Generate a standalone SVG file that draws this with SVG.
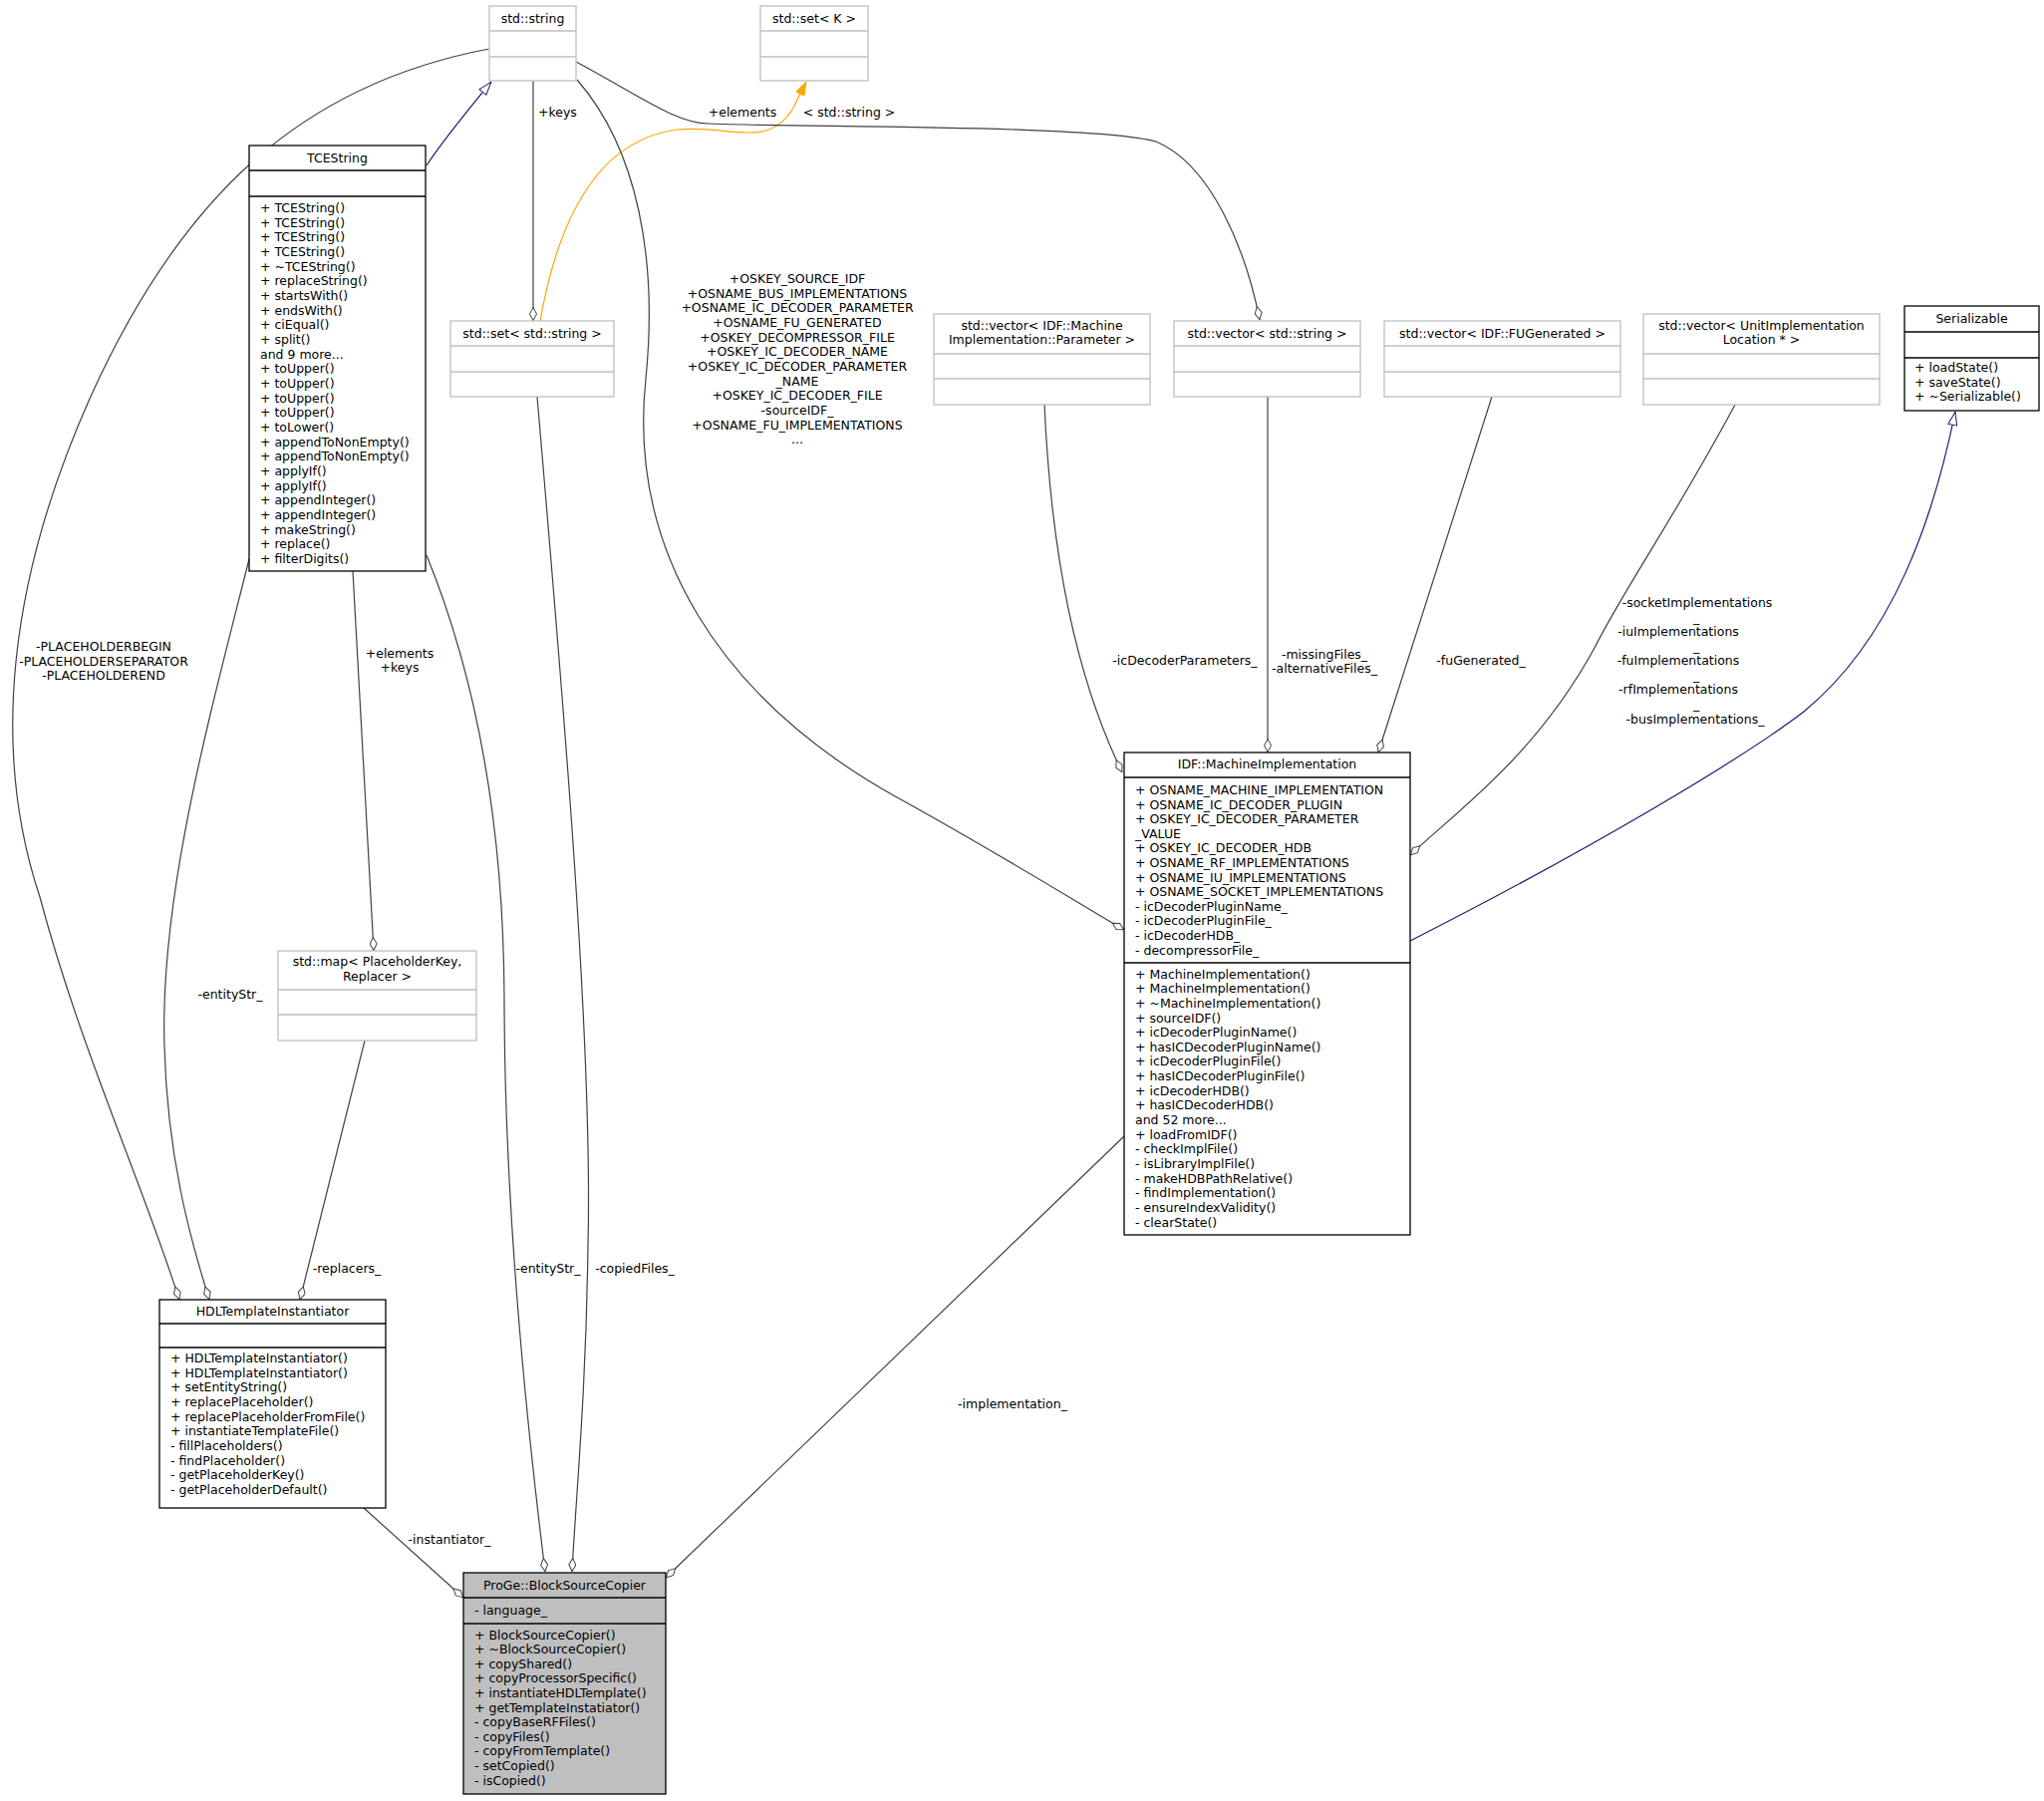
<svg xmlns="http://www.w3.org/2000/svg" width="2051" height="1807" viewBox="0 0 2051 1807">
<style>
text{font-family:"DejaVu Sans","Liberation Sans",sans-serif;font-size:12.5px;fill:#000}
.c{text-anchor:middle}
.n{fill:#fff;stroke:#000;stroke-width:1.3}
.g{fill:#fff;stroke:#bfbfbf;stroke-width:1.3}
.ln{stroke:#000;stroke-width:1.3}
.lg{stroke:#bfbfbf;stroke-width:1.3}
.e{fill:none;stroke:#404040;stroke-width:1.2}
.inh{fill:none;stroke:#191970;stroke-width:1.2}
.tpl{fill:none;stroke:#ffa500;stroke-width:1.2}
</style>
<defs>
<marker id="dia" viewBox="0 0 14 8" refX="14" refY="4" markerWidth="14" markerHeight="8" markerUnits="userSpaceOnUse" orient="auto"><path d="M0.5,4 L7,0.5 L13.5,4 L7,7.5 Z" fill="#fff" stroke="#404040" stroke-width="1"/></marker>
<marker id="tri" viewBox="0 0 14 10" refX="14" refY="5" markerWidth="14" markerHeight="10" markerUnits="userSpaceOnUse" orient="auto"><path d="M0.5,0.5 L13.5,5 L0.5,9.5 Z" fill="#fff" stroke="#191970" stroke-width="1"/></marker>
<marker id="arr" viewBox="0 0 14 10" refX="14" refY="5" markerWidth="14" markerHeight="10" markerUnits="userSpaceOnUse" orient="auto"><path d="M0.5,0.5 L13.5,5 L0.5,9.5 Z" fill="#ffa500" stroke="#ffa500" stroke-width="1"/></marker>
</defs>
<rect width="2051" height="1807" fill="#fff"/>
<g id="edges">
<path class="inh" d="M428,166 C445,140 470,110 493,82" marker-end="url(#tri)"/>
<path class="e" d="M535,81 L535,322" marker-end="url(#dia)"/>
<path class="tpl" d="M542,322 C560,220 600,140 680,130 C730,125 770,150 795,110 L809,82" marker-end="url(#arr)"/>
<path class="e" d="M578,62 C640,95 680,125 712,124 C800,128 1100,125 1160,142 C1215,165 1250,250 1264,321" marker-end="url(#dia)"/>
<path class="e" d="M579,80 C640,150 660,260 648,380 C630,550 720,700 900,800 C1000,855 1080,905 1128,933" marker-end="url(#dia)"/>
<path class="e" d="M491,49 C300,85 180,200 90,400 C10,580 -10,750 40,900 C80,1050 140,1180 180,1304" marker-end="url(#dia)"/>
<path class="e" d="M250,561 C210,720 160,900 165,1050 C168,1160 190,1240 210,1304" marker-end="url(#dia)"/>
<path class="e" d="M354,573 L375,954" marker-end="url(#dia)"/>
<path class="e" d="M366,1044 L301,1304" marker-end="url(#dia)"/>
<path class="e" d="M428,557 C470,660 505,800 506,1000 C506,1200 525,1400 547,1577" marker-end="url(#dia)"/>
<path class="e" d="M539,398 C565,700 595,1050 590,1250 C588,1400 578,1500 574,1577" marker-end="url(#dia)"/>
<path class="e" d="M365,1513 L465,1603" marker-end="url(#dia)"/>
<path class="e" d="M1128,1140 L668,1583" marker-end="url(#dia)"/>
<path class="e" d="M1048,406 C1055,560 1080,680 1126,775" marker-end="url(#dia)"/>
<path class="e" d="M1272,398 L1272,755" marker-end="url(#dia)"/>
<path class="e" d="M1497,398 L1383,755" marker-end="url(#dia)"/>
<path class="e" d="M1741,406 C1680,520 1630,590 1600,650 C1540,760 1460,815 1415,858" marker-end="url(#dia)"/>
<path class="inh" d="M1415,944 C1600,850 1750,760 1810,714 C1900,640 1940,520 1962,413" marker-end="url(#tri)"/>
<g id="edge-labels">
<text x="540" y="117">+keys</text>
<text x="745" y="117" class="c">+elements</text>
<text x="852" y="117" class="c">&lt; std::string &gt;</text>
<text class="c" x="800" y="284">+OSKEY_SOURCE_IDF</text>
<text class="c" x="800" y="298.7">+OSNAME_BUS_IMPLEMENTATIONS</text>
<text class="c" x="800" y="313.4">+OSNAME_IC_DECODER_PARAMETER</text>
<text class="c" x="800" y="328">+OSNAME_FU_GENERATED</text>
<text class="c" x="800" y="342.7">+OSKEY_DECOMPRESSOR_FILE</text>
<text class="c" x="800" y="357.4">+OSKEY_IC_DECODER_NAME</text>
<text class="c" x="800" y="372">+OSKEY_IC_DECODER_PARAMETER</text>
<text class="c" x="800" y="386.7">_NAME</text>
<text class="c" x="800" y="401.4">+OSKEY_IC_DECODER_FILE</text>
<text class="c" x="800" y="416">-sourceIDF_</text>
<text class="c" x="800" y="430.7">+OSNAME_FU_IMPLEMENTATIONS</text>
<text class="c" x="800" y="445.4">...</text>
<text class="c" x="104" y="653">-PLACEHOLDERBEGIN</text>
<text class="c" x="104" y="668">-PLACEHOLDERSEPARATOR</text>
<text class="c" x="104" y="682">-PLACEHOLDEREND</text>
<text class="c" x="401" y="660">+elements</text>
<text class="c" x="401" y="674">+keys</text>
<text class="c" x="231" y="1002">-entityStr_</text>
<text class="c" x="348" y="1277">-replacers_</text>
<text class="c" x="550" y="1277">-entityStr_</text>
<text class="c" x="637" y="1277">-copiedFiles_</text>
<text class="c" x="451" y="1549">-instantiator_</text>
<text class="c" x="1016" y="1413">-implementation_</text>
<text class="c" x="1189" y="667">-icDecoderParameters_</text>
<text class="c" x="1329" y="661">-missingFiles_</text>
<text class="c" x="1329" y="675">-alternativeFiles_</text>
<text class="c" x="1486" y="667">-fuGenerated_</text>
<text class="c" x="1703" y="609">-socketImplementations</text>
<text class="c" x="1702" y="624">_</text>
<text class="c" x="1684" y="638">-iuImplementations</text>
<text class="c" x="1702" y="653">_</text>
<text class="c" x="1684" y="667">-fuImplementations</text>
<text class="c" x="1702" y="682">_</text>
<text class="c" x="1684" y="696">-rfImplementations</text>
<text class="c" x="1702" y="711">_</text>
<text class="c" x="1701" y="726">-busImplementations_</text>
</g>
</g>
<g id="std-string">
<rect class="g" x="491" y="6" width="87" height="75"/>
<line class="lg" x1="491" y1="31" x2="578" y2="31"/><line class="lg" x1="491" y1="57" x2="578" y2="57"/>
<text class="c" x="534.5" y="23">std::string</text>
</g>
<g id="std-set-K">
<rect class="g" x="763" y="6" width="108" height="75"/>
<line class="lg" x1="763" y1="31" x2="871" y2="31"/><line class="lg" x1="763" y1="57" x2="871" y2="57"/>
<text class="c" x="817" y="23">std::set&lt; K &gt;</text>
</g>
<g id="TCEString">
<rect class="n" x="250" y="146" width="177" height="427"/>
<line class="ln" x1="250" y1="171" x2="427" y2="171"/><line class="ln" x1="250" y1="197" x2="427" y2="197"/>
<text class="c" x="338.5" y="163">TCEString</text>
<text x="261" y="213">+ TCEString()</text>
<text x="261" y="227.7">+ TCEString()</text>
<text x="261" y="242.3">+ TCEString()</text>
<text x="261" y="257">+ TCEString()</text>
<text x="261" y="271.6">+ ~TCEString()</text>
<text x="261" y="286.3">+ replaceString()</text>
<text x="261" y="301">+ startsWith()</text>
<text x="261" y="315.6">+ endsWith()</text>
<text x="261" y="330.3">+ ciEqual()</text>
<text x="261" y="345">+ split()</text>
<text x="261" y="359.6">and 9 more...</text>
<text x="261" y="374.3">+ toUpper()</text>
<text x="261" y="389">+ toUpper()</text>
<text x="261" y="403.6">+ toUpper()</text>
<text x="261" y="418.3">+ toUpper()</text>
<text x="261" y="433">+ toLower()</text>
<text x="261" y="447.6">+ appendToNonEmpty()</text>
<text x="261" y="462.3">+ appendToNonEmpty()</text>
<text x="261" y="477">+ applyIf()</text>
<text x="261" y="491.6">+ applyIf()</text>
<text x="261" y="506.3">+ appendInteger()</text>
<text x="261" y="521">+ appendInteger()</text>
<text x="261" y="535.6">+ makeString()</text>
<text x="261" y="550.3">+ replace()</text>
<text x="261" y="565">+ filterDigits()</text>
</g>
<g id="std-set-string">
<rect class="g" x="452" y="322" width="164" height="76"/>
<line class="lg" x1="452" y1="347" x2="616" y2="347"/><line class="lg" x1="452" y1="373" x2="616" y2="373"/>
<text class="c" x="534" y="339">std::set&lt; std::string &gt;</text>
</g>
<g id="vector-param">
<rect class="g" x="937" y="315" width="217" height="91"/>
<line class="lg" x1="937" y1="355" x2="1154" y2="355"/><line class="lg" x1="937" y1="380" x2="1154" y2="380"/>
<text class="c" x="1045.5" y="331">std::vector&lt; IDF::Machine</text>
<text class="c" x="1045.5" y="345">Implementation::Parameter &gt;</text>
</g>
<g id="vector-string">
<rect class="g" x="1178" y="322" width="187" height="76"/>
<line class="lg" x1="1178" y1="347" x2="1365" y2="347"/><line class="lg" x1="1178" y1="373" x2="1365" y2="373"/>
<text class="c" x="1271.5" y="339">std::vector&lt; std::string &gt;</text>
</g>
<g id="vector-fugen">
<rect class="g" x="1389" y="322" width="237" height="76"/>
<line class="lg" x1="1389" y1="347" x2="1626" y2="347"/><line class="lg" x1="1389" y1="373" x2="1626" y2="373"/>
<text class="c" x="1507.5" y="339">std::vector&lt; IDF::FUGenerated &gt;</text>
</g>
<g id="vector-unitimpl">
<rect class="g" x="1649" y="315" width="237" height="91"/>
<line class="lg" x1="1649" y1="355" x2="1886" y2="355"/><line class="lg" x1="1649" y1="380" x2="1886" y2="380"/>
<text class="c" x="1767.5" y="331">std::vector&lt; UnitImplementation</text>
<text class="c" x="1767.5" y="345">Location * &gt;</text>
</g>
<g id="Serializable">
<rect class="n" x="1911" y="307" width="135" height="105"/>
<line class="ln" x1="1911" y1="333" x2="2046" y2="333"/><line class="ln" x1="1911" y1="359" x2="2046" y2="359"/>
<text class="c" x="1978.5" y="324">Serializable</text>
<text x="1921" y="373">+ loadState()</text>
<text x="1921" y="388">+ saveState()</text>
<text x="1921" y="402">+ ~Serializable()</text>
</g>
<g id="MachineImplementation">
<rect class="n" x="1128" y="755" width="287" height="484"/>
<line class="ln" x1="1128" y1="780" x2="1415" y2="780"/><line class="ln" x1="1128" y1="966" x2="1415" y2="966"/>
<text class="c" x="1271.5" y="771">IDF::MachineImplementation</text>
<text x="1139" y="797">+ OSNAME_MACHINE_IMPLEMENTATION</text>
<text x="1139" y="811.6">+ OSNAME_IC_DECODER_PLUGIN</text>
<text x="1139" y="826.2">+ OSKEY_IC_DECODER_PARAMETER</text>
<text x="1139" y="840.8">_VALUE</text>
<text x="1139" y="855.4">+ OSKEY_IC_DECODER_HDB</text>
<text x="1139" y="870">+ OSNAME_RF_IMPLEMENTATIONS</text>
<text x="1139" y="884.6">+ OSNAME_IU_IMPLEMENTATIONS</text>
<text x="1139" y="899.2">+ OSNAME_SOCKET_IMPLEMENTATIONS</text>
<text x="1139" y="913.8">- icDecoderPluginName_</text>
<text x="1139" y="928.4">- icDecoderPluginFile_</text>
<text x="1139" y="943">- icDecoderHDB_</text>
<text x="1139" y="957.6">- decompressorFile_</text>
<text x="1139" y="981.5">+ MachineImplementation()</text>
<text x="1139" y="996.2">+ MachineImplementation()</text>
<text x="1139" y="1010.8">+ ~MachineImplementation()</text>
<text x="1139" y="1025.5">+ sourceIDF()</text>
<text x="1139" y="1040.1">+ icDecoderPluginName()</text>
<text x="1139" y="1054.8">+ hasICDecoderPluginName()</text>
<text x="1139" y="1069.4">+ icDecoderPluginFile()</text>
<text x="1139" y="1084">+ hasICDecoderPluginFile()</text>
<text x="1139" y="1098.7">+ icDecoderHDB()</text>
<text x="1139" y="1113.3">+ hasICDecoderHDB()</text>
<text x="1139" y="1128">and 52 more...</text>
<text x="1139" y="1142.6">+ loadFromIDF()</text>
<text x="1139" y="1157.3">- checkImplFile()</text>
<text x="1139" y="1171.9">- isLibraryImplFile()</text>
<text x="1139" y="1186.6">- makeHDBPathRelative()</text>
<text x="1139" y="1201.2">- findImplementation()</text>
<text x="1139" y="1215.8">- ensureIndexValidity()</text>
<text x="1139" y="1230.5">- clearState()</text>
</g>
<g id="std-map">
<rect class="g" x="279" y="954" width="199" height="90"/>
<line class="lg" x1="279" y1="993" x2="478" y2="993"/><line class="lg" x1="279" y1="1018" x2="478" y2="1018"/>
<text class="c" x="378.5" y="969">std::map&lt; PlaceholderKey,</text>
<text class="c" x="378.5" y="984">Replacer &gt;</text>
</g>
<g id="HDLTemplateInstantiator">
<rect class="n" x="160" y="1304" width="227" height="209"/>
<line class="ln" x1="160" y1="1328" x2="387" y2="1328"/><line class="ln" x1="160" y1="1352" x2="387" y2="1352"/>
<text class="c" x="273.5" y="1320">HDLTemplateInstantiator</text>
<text x="171" y="1367">+ HDLTemplateInstantiator()</text>
<text x="171" y="1381.7">+ HDLTemplateInstantiator()</text>
<text x="171" y="1396.3">+ setEntityString()</text>
<text x="171" y="1411">+ replacePlaceholder()</text>
<text x="171" y="1425.6">+ replacePlaceholderFromFile()</text>
<text x="171" y="1440.3">+ instantiateTemplateFile()</text>
<text x="171" y="1455">- fillPlaceholders()</text>
<text x="171" y="1469.6">- findPlaceholder()</text>
<text x="171" y="1484.3">- getPlaceholderKey()</text>
<text x="171" y="1499">- getPlaceholderDefault()</text>
</g>
<g id="BlockSourceCopier">
<rect x="465" y="1578" width="203" height="222" fill="#bfbfbf" stroke="#000" stroke-width="1.3"/>
<line class="ln" x1="465" y1="1603" x2="668" y2="1603"/><line class="ln" x1="465" y1="1629" x2="668" y2="1629"/>
<text class="c" x="566.5" y="1595">ProGe::BlockSourceCopier</text>
<text x="476" y="1620">- language_</text>
<text x="476" y="1644.5">+ BlockSourceCopier()</text>
<text x="476" y="1659.1">+ ~BlockSourceCopier()</text>
<text x="476" y="1673.7">+ copyShared()</text>
<text x="476" y="1688.3">+ copyProcessorSpecific()</text>
<text x="476" y="1702.9">+ instantiateHDLTemplate()</text>
<text x="476" y="1717.5">+ getTemplateInstatiator()</text>
<text x="476" y="1732.1">- copyBaseRFFiles()</text>
<text x="476" y="1746.7">- copyFiles()</text>
<text x="476" y="1761.3">- copyFromTemplate()</text>
<text x="476" y="1775.9">- setCopied()</text>
<text x="476" y="1790.5">- isCopied()</text>
</g>
</svg>
